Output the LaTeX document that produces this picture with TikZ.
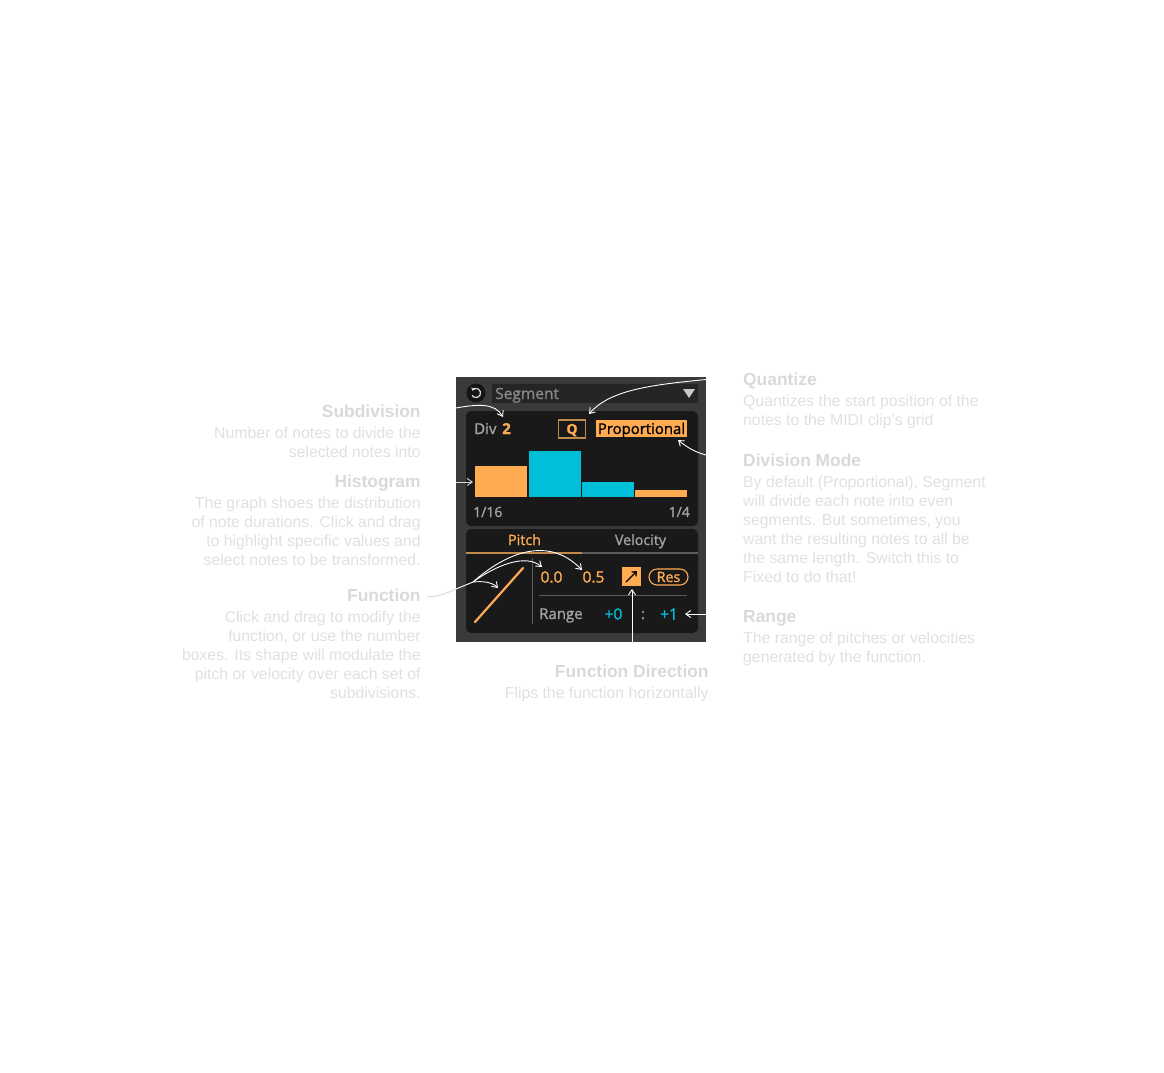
\documentclass[tikz,border=0pt]{standalone}
\usepackage{fontspec}
\setmainfont{Liberation Sans}
\newfontfamily\uifont[RawFeature={embolden=1.2}]{Open Sans}
\newfontfamily\uiboldfont[RawFeature={embolden=0.6}]{Open Sans}
\usetikzlibrary{arrows.meta}
\definecolor{capgrey}{HTML}{E0E0E0}
\definecolor{headgrey}{HTML}{D9D9D9}
\definecolor{panelbg}{HTML}{3A3A3A}
\definecolor{inner}{HTML}{191919}
\definecolor{amber}{HTML}{FFAB52}
\definecolor{amberdim}{HTML}{C08A4C}
\definecolor{teal}{HTML}{00BFD8}
\definecolor{uigrey}{HTML}{A3A3A3}
\definecolor{rulegrey}{HTML}{5C5C5C}
\tikzset{
  x=1pt,y=-1pt,
  heading/.style={inner sep=0pt,text=headgrey,font=\fontsize{17.4}{19}\selectfont\bfseries},
  bodytext/.style={inner sep=0pt,text=capgrey,font=\fontsize{15.8}{19}\selectfont},
  uitext/.style={inner sep=0pt,font=\uifont\fontsize{15}{16}\selectfont},
  callout/.style={draw=white,line width=0.9pt,-{Straight Barb[length=5pt,width=7pt]}},
  bar/.style={inner sep=0pt,minimum height=0pt},
}
\begin{document}
\begin{tikzpicture}
\useasboundingbox (0,0) rectangle (1164,1072);
% device panel
\fill[panelbg] (456,377) rectangle (706,642);
\fill[inner,rounded corners=5pt] (466,411) rectangle (698,526);
\fill[inner,rounded corners=5pt] (466,529) rectangle (698,633);
\fill[black!65!panelbg] (476,393) circle (9.5);
\draw[white!85!black,line width=1.2pt,{Stealth[length=3pt,width=4.5pt]}-] (472,390.7) arc[start angle=150,end angle=-150,radius=4.6pt];
\fill[black!30!panelbg!75!inner] (492,384) rectangle (698,403);
\node[uitext,text=uigrey!130!white,anchor=base west,font=\uifont\fontsize{15.5}{16}\selectfont] (segment) at (495,399) {Segment};
\fill[uigrey!60!white] (683,389) -- (695,389) -- (689,398) -- cycle;
% top row
\node[uitext,text=uigrey,anchor=base west] (div) at (474,434) {Div};
\node[uitext,text=amber,anchor=base west,font=\uiboldfont\bfseries\fontsize{15}{16}\selectfont] (divval) at (502,434) {2};
\node[draw=amberdim,line width=1.4pt,minimum width=27pt,minimum height=18pt,inner sep=0pt] (q) at (572,429) {};
\node[text=amber,inner sep=0pt,anchor=base,font=\uiboldfont\bfseries\fontsize{14}{16}\selectfont] (qlabel) at (572,434) {Q};
\node[fill=amber,minimum width=91pt,minimum height=17pt,inner sep=0pt] (prop) at (641.5,428.5) {};
\node[inner sep=0pt,anchor=base,text=black,font=\uifont\fontsize{14.9}{16}\selectfont] (proplabel) at (641.5,434) {Proportional};
% histogram
\node[bar,fill=amber,anchor=south west,minimum width=52pt,minimum height=31pt] (b1) at (475,497.5) {};
\node[bar,fill=teal,anchor=south west,minimum width=52pt,minimum height=46.5pt] (b2) at (528.5,497.5) {};
\node[bar,fill=teal,anchor=south west,minimum width=52pt,minimum height=15.5pt] (b3) at (582,497.5) {};
\node[bar,fill=amber,anchor=south west,minimum width=52pt,minimum height=7.5pt] (b4) at (635,497.5) {};
\node[uitext,text=uigrey,anchor=base west,font=\uifont\fontsize{14}{16}\selectfont] (lo) at (473,517) {1/16};
\node[uitext,text=uigrey,anchor=base east,font=\uifont\fontsize{14}{16}\selectfont] (hi) at (690,517) {1/4};
% tabs
\node[uitext,text=amber,anchor=base,font=\uifont\fontsize{14.3}{16}\selectfont] (pitch) at (524.5,545) {Pitch};
\node[uitext,text=uigrey,anchor=base,font=\uifont\fontsize{14.3}{16}\selectfont] (vel) at (640.5,545) {Velocity};
\draw[amberdim,line width=1.2pt] (466,553) -- (582,553);
\draw[rulegrey,line width=1.2pt] (582,553) -- (698,553);
% function
\draw[amber,line width=2.2pt,line cap=round] (475,622) -- (523,568);
\draw[rulegrey,line width=1pt] (532,558) -- (532,624);
\node[uitext,text=amber,anchor=base,font=\uifont\fontsize{15.5}{16}\selectfont] (v0) at (551.5,582.5) {0.0};
\node[uitext,text=amber,anchor=base,font=\uifont\fontsize{15.5}{16}\selectfont] (v1) at (593.5,582.5) {0.5};
\node[fill=amber,minimum size=19pt,inner sep=0pt] (dir) at (631.5,576.5) {};
\draw[black,line width=1.3pt,-{Straight Barb[length=3.5pt,width=6pt]}] (626,582) -- (637,571);
\node[draw=amber,line width=1.1pt,rounded corners=8pt,minimum width=39pt,minimum height=16pt,inner sep=0pt] (res) at (668.5,577) {};
\node[inner sep=0pt,anchor=base,text=amber,font=\uifont\fontsize{14.3}{16}\selectfont] (reslabel) at (668.5,582) {Res};
\draw[rulegrey,line width=1pt] (539,595) -- (687,595);
\node[uitext,text=uigrey,anchor=base west] (range) at (539,619) {Range};
\node[uitext,text=teal,anchor=base,font=\uifont\fontsize{15.5}{16}\selectfont] (r0) at (613.5,619.5) {+0};
\node[uitext,text=uigrey,anchor=base] (colon) at (643,619) {:};
\node[uitext,text=teal,anchor=base,font=\uifont\fontsize{15.5}{16}\selectfont] (r1) at (669,619.5) {+1};
% callouts
\coordinate (subS) at (456,408);
\coordinate (subE) at (503,417);
\draw[callout] (subS) .. controls (478,404) and (495,403) .. (subE);
\coordinate (hisS) at (456,482);
\coordinate (hisE) at (473,482);
\draw[callout,draw=white!85!black] (hisS) -- (hisE);
\coordinate (quaS) at (706,379.5);
\coordinate (quaE) at (589,414);
\draw[callout] (quaS) .. controls (650,385) and (610,390) .. (quaE);
\coordinate (modS) at (706,455);
\coordinate (modE) at (678,440);
\draw[callout] (modS) .. controls (695,452) and (688,448) .. (modE);
\coordinate (ranS) at (706,614);
\coordinate (ranE) at (685,614);
\draw[callout] (ranS) -- (ranE);
\coordinate (dirS) at (632,642);
\coordinate (dirE) at (632,589);
\draw[callout] (dirS) -- (dirE);
\coordinate (funS) at (427,596.5);
\coordinate (funM) at (456,589);
\coordinate (funF) at (473,582);
\coordinate (funA) at (498,588);
\coordinate (funB) at (542,567);
\coordinate (funC) at (582,570);
\draw[draw=headgrey,line width=0.9pt] (funS) .. controls (438,597) and (447,593) .. (funM);
\draw[draw=white,line width=0.9pt] (funM) -- (funF);
\draw[callout] (funF) .. controls (483,581) and (492,582) .. (funA);
\draw[callout] (funF) .. controls (495,566) and (525,553) .. (funB);
\draw[callout] (funF) .. controls (500,558) and (545,532) .. (funC);
% left captions
\node[heading,anchor=base east] (h1) at (420.8,417) {Subdivision};
\node[bodytext,anchor=north east,align=right] (t1) at (420.8,427) {Number of notes to divide the\\selected notes into};
\node[heading,anchor=base east] (h2) at (420.8,487) {Histogram};
\node[bodytext,anchor=north east,align=right] (t2) at (420.8,497) {The graph shoes the distribution\\of note durations. Click and drag\\to highlight specific values and\\select notes to be transformed.};
\node[heading,anchor=base east] (h3) at (420.8,601) {Function};
\node[bodytext,anchor=north east,align=right] (t3) at (420.8,611) {Click and drag to modify the\\function, or use the number\\boxes. Its shape will modulate the\\pitch or velocity over each set of\\subdivisions.};
% right captions
\node[heading,anchor=base west] (h4) at (743,385) {Quantize};
\node[bodytext,anchor=north west,align=left] (t4) at (743,395) {Quantizes the start position of the\\notes to the MIDI clip’s grid};
\node[heading,anchor=base west] (h5) at (743,466) {Division Mode};
\node[bodytext,anchor=north west,align=left] (t5) at (743,476) {By default (Proportional), Segment\\will divide each note into even\\segments. But sometimes, you\\want the resulting notes to all be\\the same length. Switch this to\\Fixed to do that!};
\node[heading,anchor=base west] (h6) at (743,622) {Range};
\node[bodytext,anchor=north west,align=left] (t6) at (743,632) {The range of pitches or velocities\\generated by the function.};
% bottom caption
\node[heading,anchor=base east] (h7) at (708.8,677) {Function Direction};
\node[bodytext,anchor=north east,align=right] (t7) at (708.8,687) {Flips the function horizontally};
\end{tikzpicture}
\end{document}
